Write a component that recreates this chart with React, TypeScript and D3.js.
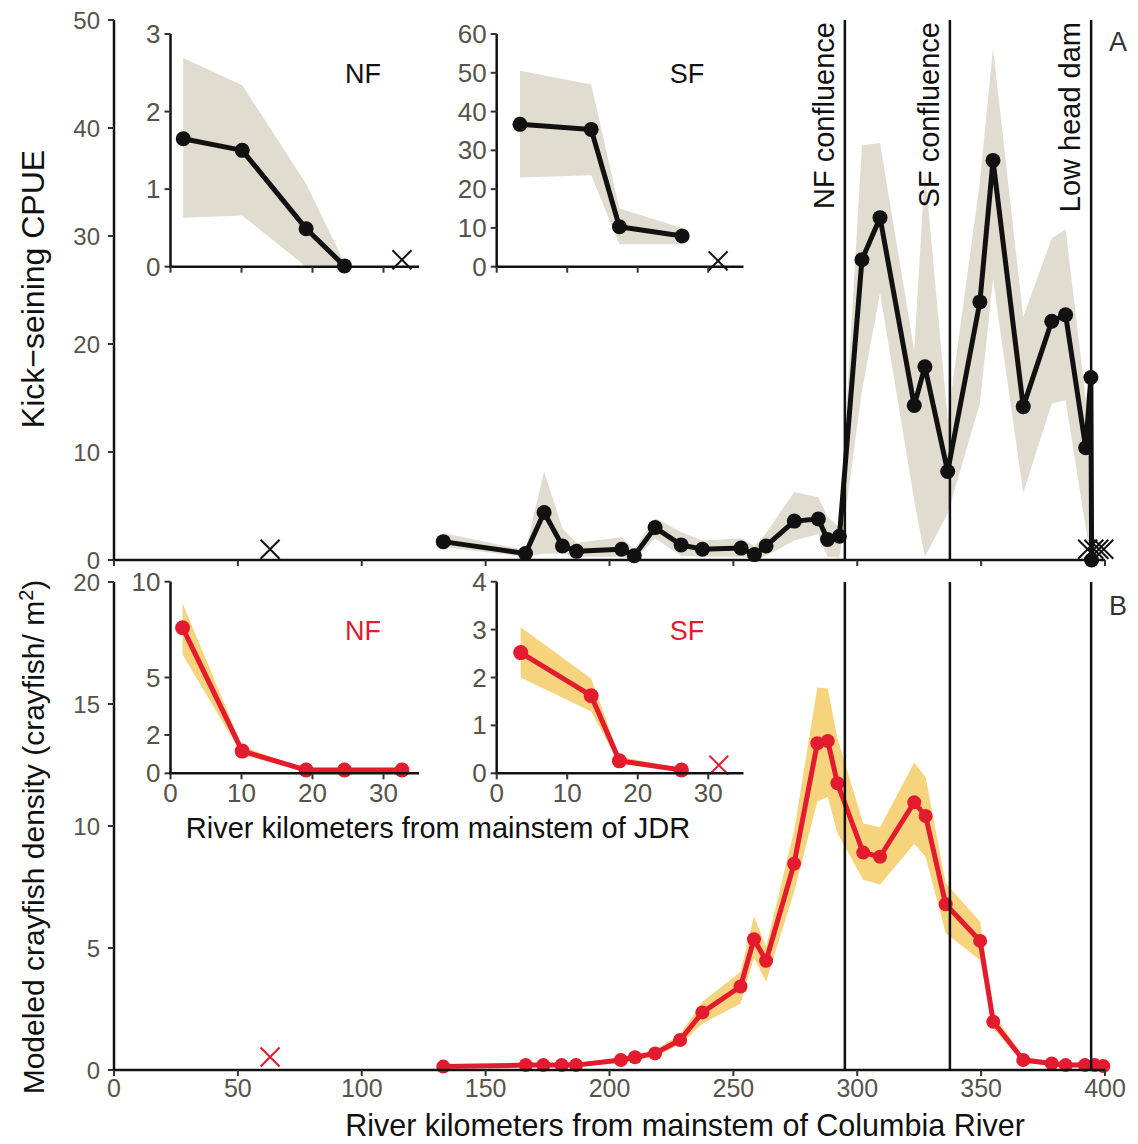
import React from 'react';
import * as d3 from 'd3';

// ---------- Panel A (kick-seining CPUE) ----------
const topKm = [132.9,166.1,173.6,181,186.7,204.9,210,218.4,228.9,237.5,253.1,258.5,263.2,274.6,284.3,288,292.8,301.9,309.2,323,327.3,336.5,349.5,354.8,367,378.5,384.1,392.2,394.3,394.6];
const topVal = [1.7,0.6,4.4,1.3,0.8,1.0,0.4,3.0,1.4,1.0,1.1,0.5,1.3,3.6,3.8,1.9,2.2,27.8,31.7,14.3,17.9,8.2,23.9,37.0,14.2,22.1,22.7,10.4,16.9,0];
const topUpper = [2.5,0.9,8.2,2.9,1.6,2.1,1.0,3.9,2.6,1.8,2.0,1.3,2.5,6.3,5.8,4.0,3.0,38.4,38.6,19.4,36.1,13.0,35.0,47.4,22.5,29.8,30.6,15.0,17.0,0];
const topLower = [1.2,0.3,0.6,0.6,0.3,0.3,0,2.0,0.4,0.3,0.3,0.1,0.4,1.8,2.4,0.3,0.2,15.7,24.7,5.5,0.3,4.3,14.5,26.0,6.2,14.5,14.8,3.0,0,0];
const topZeroKm = [63, 393, 395.5, 397.5, 399.5];
const topZeroVal = [1.0, 1.0, 1.0, 1.0, 1.0];

// ---------- Panel B (modeled density) ----------
const botKm = [132.9,166.2,173.3,180.7,186.5,204.6,210.3,218.4,228.5,237.5,252.9,258.3,263.2,274.5,283.9,288.1,292,302.4,309.2,323,327.6,335.7,349.6,354.9,367,378.5,384.1,391.9,395.9,399.3];
const botVal = [0.14,0.2,0.2,0.2,0.2,0.41,0.52,0.68,1.23,2.36,3.42,5.36,4.48,8.45,13.39,13.48,11.75,8.91,8.74,10.97,10.41,6.79,5.29,1.98,0.41,0.27,0.2,0.2,0.2,0.16];
const botUpper = [0.2,0.28,0.28,0.28,0.3,0.5,0.62,0.82,1.45,2.8,4.03,6.3,5.05,9.8,15.68,15.64,13.6,10.1,9.95,12.6,12.0,7.65,6.08,2.3,0.55,0.35,0.28,0.28,0.28,0.25];
const botLower = [0.08,0.12,0.12,0.12,0.12,0.3,0.4,0.55,1.05,1.9,2.73,4.6,3.62,7.3,11.0,11.2,9.7,7.8,7.6,9.26,8.74,5.6,4.5,1.7,0.3,0.18,0.12,0.12,0.12,0.1];
const botZeroKm = [63];
const botZeroVal = [0.53];

// ---------- Insets ----------
const aNFKm = [1.8,10.1,19.1,24.5];
const aNFVal = [1.65,1.50,0.49,0.01];
const aNFUpper = [2.69,2.34,1.07,0.05];
const aNFLower = [0.63,0.66,0,0];
const aNFZeroKm = [32.6];
const aNFZeroVal = [0.09];

const aSFKm = [3.3,13.4,17.4,26.3];
const aSFVal = [36.7,35.4,10.3,7.9];
const aSFUpper = [50.5,47.0,15.0,10.0];
const aSFLower = [23.0,23.6,5.8,5.8];
const aSFZeroKm = [31.4];
const aSFZeroVal = [1.5];

const bNFKm = [1.7,10.1,19.1,24.5,32.6];
const bNFVal = [7.6,1.16,0.17,0.17,0.17];
const bNFUpper = [8.87,1.4,0.22,0.2,0.2];
const bNFLower = [6.2,0.95,0.1,0.1,0.1];
const bNFZeroKm: number[] = [];
const bNFZeroVal: number[] = [];

const bSFKm = [3.4,13.4,17.4,26.2];
const bSFVal = [2.52,1.62,0.26,0.07];
const bSFUpper = [3.05,1.98,0.35,0.1];
const bSFLower = [2.0,1.29,0.2,0.03];
const bSFZeroKm = [31.5];
const bSFZeroVal = [0.17];

const mainXTicks = [0,50,100,150,200,250,300,350,400];
const topYTicks = [0,10,20,30,40,50];
const botYTicks = [0,5,10,15,20];
const insetXTicks = [0,10,20,30];
const aNFYTicks = [0,1,2,3];
const aSFYTicks = [0,10,20,30,40,50,60];
const bNFYTicks = [0,2,5,10];
const bSFYTicks = [0,1,2,3,4];

const landmarks = [
  { km: 295, label: 'NF confluence' },
  { km: 337.4, label: 'SF confluence' },
  { km: 394.4, label: 'Low head dam' },
];

const FONT = '"Liberation Sans", Arial, Helvetica, sans-serif';
const TICKCOL = '#57534a';
const BEIGE = '#e0dccf';
const YELLOW = '#f6d47e';
const RED = '#e31b2f';

type Sc = d3.ScaleLinear<number, number>;

interface SeriesProps {
  xs: Sc; ys: Sc; km: number[]; val: number[]; up: number[]; lo: number[];
  zkm: number[]; zval: number[]; col: string; band: string; r: number; lw: number;
}

function Series({ xs, ys, km, val, up, lo, zkm, zval, col, band, r, lw }: SeriesProps) {
  const idx = km.map((_, i) => i);
  const area = d3.area<number>().x(i => xs(km[i])).y0(i => ys(lo[i])).y1(i => ys(up[i]));
  const line = d3.line<number>().x(i => xs(km[i])).y(i => ys(val[i]));
  return (
    <g>
      <path d={area(idx) || ''} fill={band} stroke="none" />
      <path d={line(idx) || ''} fill="none" stroke={col} strokeWidth={lw} strokeLinejoin="round" />
      {idx.map(i => <circle key={i} cx={xs(km[i])} cy={ys(val[i])} r={r} fill={col} />)}
      {zkm.map((k, i) => {
        const cx = xs(k), cy = ys(zval[i]); const s = 9.5;
        return <path key={'z' + i} d={`M${cx - s},${cy - s}L${cx + s},${cy + s}M${cx - s},${cy + s}L${cx + s},${cy - s}`} stroke={col} strokeWidth={2} fill="none" />;
      })}
    </g>
  );
}

function YAxis({ ys, x0, ticks, fs, gap = 4 }: { ys: Sc; x0: number; ticks: number[]; fs: number; gap?: number }) {
  const [a, b] = ys.range();
  const tl = 6;
  return (
    <g>
      <line x1={x0} x2={x0} y1={a + 1} y2={b} stroke="#111" strokeWidth={2.5} />
      {ticks.map(t => (
        <g key={t}>
          <line x1={x0 - tl} x2={x0} y1={ys(t)} y2={ys(t)} stroke="#333" strokeWidth={2} />
          <text x={x0 - tl - gap} y={ys(t)} textAnchor="end" dominantBaseline="central" fontSize={fs} fill={TICKCOL} fontFamily={FONT}>{t}</text>
        </g>
      ))}
    </g>
  );
}

function XAxis({ xs, y0, ticks, fs, labels }: { xs: Sc; y0: number; ticks: number[]; fs: number; labels: boolean }) {
  const [a, b] = xs.range();
  return (
    <g>
      <line x1={a - 1} x2={b} y1={y0} y2={y0} stroke="#111" strokeWidth={2.5} />
      {ticks.map(t => (
        <g key={t}>
          <line x1={xs(t)} x2={xs(t)} y1={y0} y2={y0 + 6} stroke="#333" strokeWidth={2} />
          {labels && <text x={xs(t)} y={y0 + 9} textAnchor="middle" dominantBaseline="hanging" fontSize={fs} fill={TICKCOL} fontFamily={FONT}>{t}</text>}
        </g>
      ))}
    </g>
  );
}

export default function App() {
  const x = d3.scaleLinear().domain([0, 400]).range([114, 1105]);
  const yTop = d3.scaleLinear().domain([0, 50]).range([560, 20]);
  const yBot = d3.scaleLinear().domain([0, 20]).range([1070, 582]);

  const xNFa = d3.scaleLinear().domain([0, 35]).range([170.5, 419]);
  const xSFa = d3.scaleLinear().domain([0, 35]).range([496.7, 743.5]);
  const yNFa = d3.scaleLinear().domain([0, 3]).range([266.7, 34]);
  const ySFa = d3.scaleLinear().domain([0, 60]).range([266.7, 34]);
  const yNFb = d3.scaleLinear().domain([0, 10]).range([773.3, 581.7]);
  const ySFb = d3.scaleLinear().domain([0, 4]).range([773.3, 581.7]);

  return (
    <svg width={1138} height={1144} style={{ position: 'absolute', left: 0, top: 0, background: '#fff' }} fontFamily={FONT}>
      <rect x={0} y={0} width={1138} height={1144} fill="#fff" />

      {/* Panel A */}
      <Series xs={x} ys={yTop} km={topKm} val={topVal} up={topUpper} lo={topLower} zkm={topZeroKm} zval={topZeroVal} col="#111" band={BEIGE} r={7.5} lw={5} />
      {landmarks.map(l => (
        <g key={'a' + l.label}>
          <line x1={x(l.km)} x2={x(l.km)} y1={20} y2={560} stroke="#111" strokeWidth={2.5} />
          <text transform={`translate(${x(l.km) - 11},22) rotate(-90)`} textAnchor="end" fontSize={29} fill="#111">{l.label}</text>
        </g>
      ))}
      <YAxis ys={yTop} x0={114} ticks={topYTicks} fs={24} gap={8} />
      <XAxis xs={x} y0={560} ticks={mainXTicks} fs={25} labels={false} />
      <text x={1118} y={42} textAnchor="middle" dominantBaseline="central" fontSize={27} fill="#333">A</text>

      {/* Inset A NF */}
      <Series xs={xNFa} ys={yNFa} km={aNFKm} val={aNFVal} up={aNFUpper} lo={aNFLower} zkm={aNFZeroKm} zval={aNFZeroVal} col="#111" band={BEIGE} r={7.5} lw={5} />
      <YAxis ys={yNFa} x0={170.5} ticks={aNFYTicks} fs={26} />
      <XAxis xs={xNFa} y0={266.7} ticks={insetXTicks} fs={26} labels={false} />
      <text x={363} y={74} textAnchor="middle" dominantBaseline="central" fontSize={27} fill="#111">NF</text>

      {/* Inset A SF */}
      <Series xs={xSFa} ys={ySFa} km={aSFKm} val={aSFVal} up={aSFUpper} lo={aSFLower} zkm={aSFZeroKm} zval={aSFZeroVal} col="#111" band={BEIGE} r={7.5} lw={5} />
      <YAxis ys={ySFa} x0={496.7} ticks={aSFYTicks} fs={26} />
      <XAxis xs={xSFa} y0={266.7} ticks={insetXTicks} fs={26} labels={false} />
      <text x={687} y={74} textAnchor="middle" dominantBaseline="central" fontSize={27} fill="#111">SF</text>

      {/* Panel B */}
      <Series xs={x} ys={yBot} km={botKm} val={botVal} up={botUpper} lo={botLower} zkm={botZeroKm} zval={botZeroVal} col={RED} band={YELLOW} r={7} lw={5} />
      {landmarks.map(l => (
        <line key={'b' + l.label} x1={x(l.km)} x2={x(l.km)} y1={582} y2={1070} stroke="#111" strokeWidth={2.5} />
      ))}
      <YAxis ys={yBot} x0={114} ticks={botYTicks} fs={24} gap={8} />
      <XAxis xs={x} y0={1070} ticks={mainXTicks} fs={25} labels={true} />
      <text x={1118} y={606} textAnchor="middle" dominantBaseline="central" fontSize={27} fill="#333">B</text>

      {/* Inset B NF */}
      <Series xs={xNFa} ys={yNFb} km={bNFKm} val={bNFVal} up={bNFUpper} lo={bNFLower} zkm={bNFZeroKm} zval={bNFZeroVal} col={RED} band={YELLOW} r={7.5} lw={5} />
      <YAxis ys={yNFb} x0={170.5} ticks={bNFYTicks} fs={26} />
      <XAxis xs={xNFa} y0={773.3} ticks={insetXTicks} fs={26} labels={true} />
      <text x={363} y={631} textAnchor="middle" dominantBaseline="central" fontSize={27} fill={RED}>NF</text>

      {/* Inset B SF */}
      <Series xs={xSFa} ys={ySFb} km={bSFKm} val={bSFVal} up={bSFUpper} lo={bSFLower} zkm={bSFZeroKm} zval={bSFZeroVal} col={RED} band={YELLOW} r={7.5} lw={5} />
      <YAxis ys={ySFb} x0={496.7} ticks={bSFYTicks} fs={26} />
      <XAxis xs={xSFa} y0={773.3} ticks={insetXTicks} fs={26} labels={true} />
      <text x={687} y={631} textAnchor="middle" dominantBaseline="central" fontSize={27} fill={RED}>SF</text>

      <text x={438} y={838} textAnchor="middle" fontSize={29} fill="#111">River kilometers from mainstem of JDR</text>

      {/* Axis titles */}
      <text x={685} y={1136} textAnchor="middle" fontSize={30.5} fill="#111">River kilometers from mainstem of Columbia River</text>
      <text transform="translate(44,289) rotate(-90)" textAnchor="middle" fontSize={32} fill="#111">Kick−seining CPUE</text>
      <text transform="translate(44,837) rotate(-90)" textAnchor="middle" fontSize={30} fill="#111">
        Modeled crayfish density (crayfish/ m<tspan dy={-11} fontSize={20}>2</tspan><tspan dy={11}>)</tspan>
      </text>
    </svg>
  );
}
